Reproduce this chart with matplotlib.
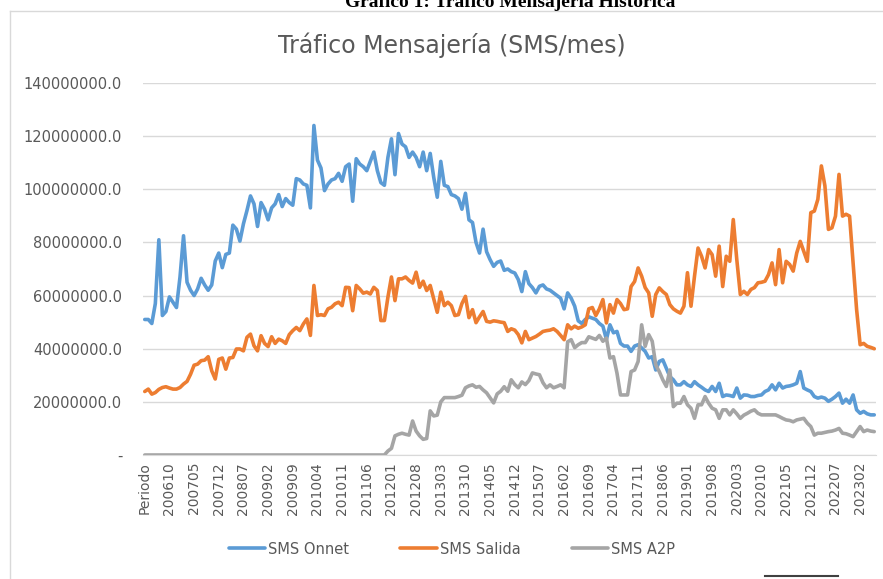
import matplotlib.pyplot as plt
from matplotlib.lines import Line2D
from matplotlib.ticker import FuncFormatter

# categories: first row of the sheet is the "Periodo" header, then 200604 .. 202306
periods = ["Periodo"]
for year in range(2006, 2024):
    for month in range(1, 13):
        if (year, month) < (2006, 4) or (year, month) > (2023, 6):
            continue
        periods.append(f"{year}{month:02d}")

# values in millions of SMS per month
sms_onnet = [
    51, 51, 49.5, 57, 81, 52.5, 54, 59.5, 57.5, 55.5,
    67, 82.5, 65, 62, 60, 62.5, 66.5, 64, 62, 64,
    73, 76, 70.5, 75.5, 76, 86.5, 85, 80.5, 87, 92,
    97.5, 94.5, 86, 95, 92.5, 88.5, 93, 94.5, 98, 93.5,
    96.5, 95, 94, 104, 103.5, 102, 101.5, 93, 124, 111,
    108, 99.5, 102, 103.5, 104, 106, 103, 108.5, 109.5, 95.5,
    111.5, 109.5, 108.5, 107, 110.5, 114, 107, 102.5, 101.5, 112,
    119, 105.5, 121, 117, 116, 112, 114, 112, 108.5, 114,
    107, 113.5, 104.5, 97, 110.5, 101.5, 101, 98, 97.5, 96.5,
    92.5, 98.5, 88.5, 87.5, 80, 76, 85, 76.5, 73.5, 71,
    72.5, 73, 69.5, 70, 69, 68.5, 66, 61.5, 69, 64.5,
    63, 61, 63.5, 64, 62.5, 62, 61, 60, 59, 55,
    61, 59, 56, 50.5, 49.5, 51, 52, 51.5, 51, 49.5,
    48.5, 43.5, 49, 46, 46.5, 42, 41, 41, 39, 41,
    41.5, 40.3, 39, 36.5, 37, 32, 35.2, 35.8, 32.7, 29.5,
    28.3, 26.4, 26.4, 27.6, 26.4, 25.8, 27.6, 26.4, 25.5, 24.5,
    23.9, 25.8, 23.9, 27, 22, 22.6, 22.4, 22, 25.2, 21.4,
    22.6, 22.5, 22, 22, 22.4, 22.6, 23.9, 24.5, 26.4, 24.5,
    27, 25.2, 25.8, 26, 26.4, 27, 31.4, 25.2, 24.5, 23.9,
    22, 21.4, 21.8, 21.4, 20.2, 21, 22, 23.3, 19.5, 21,
    19.5, 22.6, 17, 15.7, 16.4, 15.5, 15.1, 15.1,
]
sms_salida = [
    23.9, 24.8, 22.9, 23.5, 24.7, 25.4, 25.7, 25.2, 24.8, 24.8,
    25.4, 26.7, 27.7, 30.4, 33.8, 34.2, 35.5, 35.7, 37, 31.7,
    28.6, 36, 36.5, 32.3, 36.5, 36.7, 39.9, 39.9, 39.2, 44.3,
    45.5, 41.1, 39.2, 44.9, 42, 40.8, 44.5, 42, 43.6, 43,
    42, 45.3, 46.8, 48, 46.8, 49.3, 51.2, 45, 63.8, 52.5,
    52.8, 52.5, 55, 55.6, 56.9, 57.5, 56.2, 63.1, 63, 54.3,
    63.8, 62.5, 60.9, 61.3, 60.6, 63.1, 61.9, 50.6, 50.6, 59.4,
    67, 58.1, 66.3, 66.3, 67, 65.7, 64.7, 68.8, 63.1, 65.4,
    61.9, 63.8, 58.7, 53.7, 61.3, 56.2, 57.5, 56.2, 52.5, 52.8,
    57, 59.7, 51.7, 54.7, 49.8, 52, 54, 50.3, 50, 50.5,
    50.3, 50, 49.8, 46.5, 47.5, 47, 45.3, 42.2, 46.5, 43.4,
    44, 44.6, 45.5, 46.5, 46.8, 47, 47.5, 46.5, 45, 43.4,
    49, 47.5, 48.5, 47.7, 48.2, 49, 55, 55.5, 52.5, 55,
    58.5, 49.7, 56.6, 53.4, 58.5, 57, 54.7, 55, 63.4, 65.3,
    70.4, 67.3, 63, 61, 52.2, 60.4, 62.9, 61.5, 60.4, 56.6,
    55, 54.1, 53.4, 56, 68.6, 56, 67.3, 77.9, 74.8, 70.4,
    77.3, 75.4, 67.3, 78.6, 63.4, 74.8, 72.9, 88.6, 73.5, 60.4,
    61.6, 60.4, 62.3, 63, 64.8, 65, 65.4, 67.9, 72.3, 64.1,
    77.3, 64.8, 72.9, 71.7, 69.2, 76, 80.4, 76.7, 72.9, 91.2,
    91.8, 96.2, 108.8, 101.3, 84.9, 85.5, 89.9, 105.6, 89.9, 90.6,
    89.9, 72.3, 54.7, 41.5, 42, 40.9, 40.5, 40,
]
sms_a2p = [
    0, 0, 0, 0, 0, 0, 0, 0, 0, 0,
    0, 0, 0, 0, 0, 0, 0, 0, 0, 0,
    0, 0, 0, 0, 0, 0, 0, 0, 0, 0,
    0, 0, 0, 0, 0, 0, 0, 0, 0, 0,
    0, 0, 0, 0, 0, 0, 0, 0, 0, 0,
    0, 0, 0, 0, 0, 0, 0, 0, 0, 0,
    0, 0, 0, 0, 0, 0, 0, 0, 0, 1.5,
    2.5, 7.2, 7.8, 8.2, 7.8, 7.5, 12.8, 9, 7.2, 5.9,
    6.2, 16.6, 14.7, 15, 20, 21.6, 21.6, 21.6, 21.6, 22,
    22.5, 25.3, 26, 26.4, 25.5, 25.8, 24.5, 23.4, 21.5, 19.6,
    23, 24, 25.7, 24, 28.3, 26.5, 25.3, 27.5, 26.5, 28,
    30.9, 30.5, 30.2, 27.2, 25.3, 26.4, 25.3, 25.8, 26.4, 25.3,
    42.6, 43.4, 40.4, 41.5, 42.3, 42.3, 44.5, 44, 43.5, 45,
    42.8, 44, 36.5, 37, 30.8, 22.6, 22.6, 22.6, 31.4, 32,
    35.2, 49, 40.9, 45.3, 42.8, 33.9, 31.4, 28.3, 25.8, 32,
    18.2, 19.5, 19.5, 22, 18.9, 17.6, 13.8, 18.9, 18.9, 22,
    19.5, 17.6, 17, 13.8, 17, 17, 15.1, 17, 15.5, 13.8,
    15, 15.7, 16.5, 17, 15.7, 15.1, 15.1, 15.1, 15.1, 15.1,
    14.5, 13.8, 13.2, 13, 12.5, 13.2, 13.5, 13.8, 12, 10.7,
    7.5, 8.2, 8.2, 8.5, 8.8, 9, 9.4, 10, 8.2, 8,
    7.5, 6.9, 8.8, 10.7, 8.8, 9.4, 9, 8.8,
]

series_names = ["SMS Onnet", "SMS Salida", "SMS A2P"]
series_colors = ["#5B9BD5", "#ED7D31", "#A5A5A5"]

W, H = 883, 579
fig = plt.figure(figsize=(W / 100, H / 100), dpi=100)

# plot area in pixels: x 143..876, y 83..455
ax = fig.add_axes([143 / W, 1 - 455 / H, (876 - 143) / W, (455 - 83) / H])

x = list(range(len(periods)))
for name, vals, col in zip(series_names, [sms_onnet, sms_salida, sms_a2p], series_colors):
    ax.plot(x, [v * 1e6 for v in vals], color=col, lw=2.6, label=name,
            solid_joinstyle="round", solid_capstyle="round")

ax.set_xlim(-0.5, len(periods) - 0.5)
ax.set_ylim(0, 140e6)
ax.set_yticks(range(0, 140000001, 20000000))
ax.yaxis.set_major_formatter(FuncFormatter(lambda v, p: "-" if v == 0 else f"{v:.1f}"))
ax.set_xticks(x[::7])
ax.set_xticklabels(periods[::7], rotation=90)

ax.grid(axis="y", color="#d9d9d9", lw=1)
ax.set_axisbelow(True)
for s in ["top", "right", "left"]:
    ax.spines[s].set_visible(False)
ax.spines["bottom"].set_color("#d9d9d9")
ax.tick_params(axis="both", length=0, labelcolor="#595959")
ax.tick_params(axis="y", labelsize=10.5, pad=15)
ax.tick_params(axis="x", labelsize=10, pad=5)

# title and caption
fig.text(452 / W, 1 - 45 / H, "Tráfico Mensajería (SMS/mes)", ha="center", va="center",
         fontsize=17, color="#595959")
fig.text(510 / W, 1 - 7 / H, "Gráfico 1: Tráfico Mensajería Histórica", ha="center",
         va="baseline", fontsize=14, weight="bold", family="Liberation Serif", color="black")

# legend
fig.legend(loc="center", bbox_to_anchor=(452 / W, 1 - 549 / H), ncol=3, frameon=False,
           fontsize=10.5, labelcolor="#595959", handlelength=2.5, handletextpad=0.2,
           columnspacing=3.5)

# chart frame (left and top edges) and the dark line at bottom right
fig.add_artist(Line2D([10 / W, 10 / W], [0, 1 - 11 / H], color="#d9d9d9", lw=1))
fig.add_artist(Line2D([10 / W, 1], [1 - 11 / H, 1 - 11 / H], color="#d9d9d9", lw=1))
fig.add_artist(Line2D([765 / W, 838 / W], [1 - 576 / H, 1 - 576 / H], color="#404040", lw=1.5))

fig.savefig("out.png", dpi=100)
